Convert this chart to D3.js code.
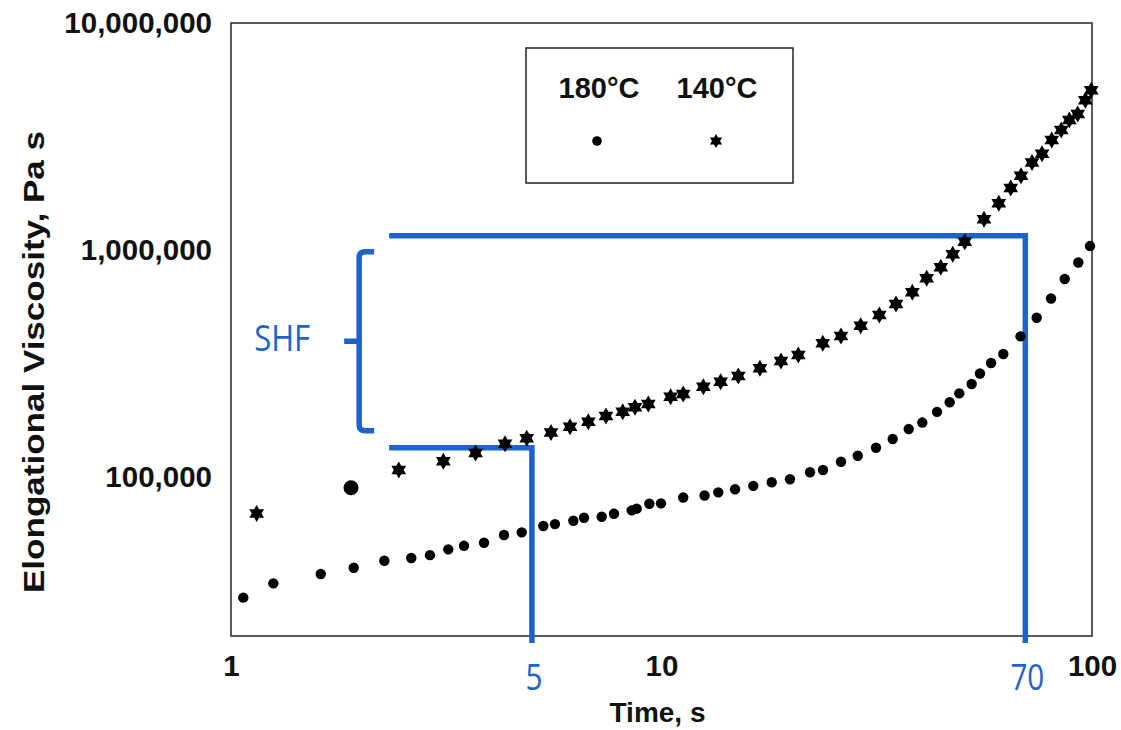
<!DOCTYPE html>
<html>
<head>
<meta charset="utf-8">
<script src="https://cdn.jsdelivr.net/npm/d3@7"></script>
<style>
  body { margin: 0; background: #fff; }
  svg { display: block; }
</style>
</head>
<body>
<svg id="chart" width="1121" height="730"></svg>
<script>
// Elongational viscosity growth, 180 °C (round markers)
const time180 = [1.068, 1.254, 1.616, 1.928, 2.271, 2.623, 2.899, 3.197, 3.477, 3.870,
  4.307, 4.735, 5.314, 5.656, 6.240, 6.607, 7.262, 7.757, 8.527, 8.758,
  9.370, 9.973, 11.23, 12.59, 13.55, 14.82, 16.34, 18.03, 19.88, 22.13,
  23.72, 26.12, 28.57, 31.50, 34.44, 37.52, 40.35, 43.65, 46.71, 49.18,
  52.54, 54.92, 58.28, 62.23, 68.23, 74.38, 80.33, 86.42, 92.94, 98.95];
const visc180 = [29500, 34100, 37500, 39950, 42900, 44100, 45400, 48150, 49900, 51500,
  55700, 57200, 61000, 62200, 64350, 66300, 67000, 69100, 71500, 72700,
  76400, 76750, 81400, 83100, 85800, 88500, 91650, 95100, 98000, 105200,
  107600, 117000, 124300, 134900, 147300, 163000, 174100, 194100, 213900, 234100,
  257300, 286200, 318400, 348800, 417300, 503900, 612300, 746100, 881900, 1042000];

// Elongational viscosity growth, 140 °C (star markers)
const time140 = [1.147, 2.453, 3.113, 3.699, 4.330, 4.863, 5.538, 6.131, 6.761, 7.431,
  8.126, 8.678, 9.319, 10.50, 11.23, 12.51, 13.72, 15.08, 16.93, 18.95,
  20.79, 23.69, 26.12, 29.02, 32.06, 35.05, 38.25, 41.30, 44.53, 47.48,
  50.63, 56.12, 60.74, 64.74, 68.41, 72.55, 76.55, 80.63, 84.83, 88.58,
  92.64, 96.50, 99.57];
const visc140 = [69300, 107600, 117500, 127800, 140400, 148400, 157300, 166900, 175600, 186000,
  194300, 203200, 210100, 226200, 232500, 250300, 263400, 279000, 301700, 324900,
  345200, 388700, 418600, 464700, 517900, 579000, 652100, 751300, 840200, 958300,
  1089000, 1366000, 1607000, 1877000, 2124000, 2430000, 2657000, 3053000, 3379000, 3741000,
  3975000, 4566000, 5054000];

// Single oversized round marker near t = 2 s
const timeLarge = [1.90];
const viscLarge = [89900];

const xTicks = [1, 10, 100];
const yTicks = [1e5, 1e6, 1e7];
const legendLabels = ["180°C", "140°C"];

// Strain-hardening factor annotation: times, viscosity levels, start of guide lines
const shfTimes = [5, 70];
const shfTimeLabels = ["5", "70"];
const shfLevels = [134900, 1157000];
const shfStartTime = 2.33;
const shfLabel = "SHF";

const svg = d3.select("#chart");
const plot = { left: 231, right: 1092, top: 23, bottom: 636 };
const boldFont = "'Liberation Sans', Arial, sans-serif";
const blue = "#1f62c9";

const x = d3.scaleLog().domain([1, 100]).range([plot.left, plot.right]);
const y = d3.scaleLog().domain([2e4, 1e7]).range([plot.bottom, plot.top]);

// Plot frame
svg.append("rect")
  .attr("x", plot.left).attr("y", plot.top)
  .attr("width", plot.right - plot.left).attr("height", plot.bottom - plot.top)
  .attr("fill", "none").attr("stroke", "#333").attr("stroke-width", 1.6);

// Axes (labels only, frame drawn above)
const yAxis = svg.append("g")
  .attr("transform", `translate(${plot.left},0)`)
  .call(d3.axisLeft(y).tickValues(yTicks).tickFormat(d3.format(",")).tickSize(0).tickPadding(19));
const xAxis = svg.append("g")
  .attr("transform", `translate(0,${plot.bottom})`)
  .call(d3.axisBottom(x).tickValues(xTicks).tickFormat(d3.format("d")).tickSize(0).tickPadding(19));
[yAxis, xAxis].forEach(g => {
  g.select(".domain").remove();
  g.selectAll("text")
    .attr("font-family", boldFont).attr("font-weight", "bold")
    .attr("font-size", 29.5).attr("fill", "#111");
});

// Axis titles
svg.append("text")
  .attr("x", (plot.left + plot.right) / 2 - 4).attr("y", 722)
  .attr("text-anchor", "middle")
  .attr("font-family", boldFont).attr("font-weight", "bold").attr("font-size", 28)
  .attr("fill", "#111").text("Time, s");
svg.append("text")
  .attr("transform", `translate(44,362) rotate(-90)`)
  .attr("text-anchor", "middle")
  .attr("font-family", boldFont).attr("font-weight", "bold").attr("font-size", 29)
  .attr("textLength", 462).attr("lengthAdjust", "spacingAndGlyphs")
  .attr("fill", "#111").text("Elongational Viscosity, Pa s");

// Six-pointed star marker
function hexagram(R) {
  const r = R / Math.sqrt(3);
  const pts = d3.range(12).map(i => {
    const a = -Math.PI / 2 + i * Math.PI / 6;
    const rad = i % 2 ? r : R;
    return [rad * Math.cos(a), rad * Math.sin(a)];
  });
  return "M" + pts.map(p => p.join(",")).join("L") + "Z";
}

// Blue annotation: guide lines at the two reading times
const ann = svg.append("g").attr("fill", "none").attr("stroke", blue).attr("stroke-width", 5.5);
shfTimes.forEach((t, i) => {
  const yl = y(shfLevels[i]);
  ann.append("path")
    .attr("d", `M${x(shfStartTime)},${yl}H${x(t)}V${plot.bottom + 7}`)
    .attr("stroke-linejoin", "miter");
});

// Curly bracket between the two levels
const bx = x(shfStartTime) - 30;
const bTop = y(shfLevels[1]) + 16;
const bBot = y(shfLevels[0]) - 17;
const bMid = (bTop + bBot) / 2;
ann.append("path")
  .attr("d", `M${bx + 15},${bTop}H${bx + 6}Q${bx},${bTop} ${bx},${bTop + 6}` +
             `V${bBot - 6}Q${bx},${bBot} ${bx + 6},${bBot}H${bx + 15}`);
ann.append("path").attr("d", `M${bx},${bMid}H${bx - 15}`);

// Annotation texts
const annFont = "'Open Sans', 'Noto Sans', sans-serif";
svg.append("text")
  .attr("transform", `translate(${bx - 77},${bMid + 10}) scale(0.84,1)`)
  .attr("text-anchor", "middle").attr("font-family", annFont)
  .attr("font-size", 37).attr("fill", blue).text(shfLabel);
shfTimes.forEach((t, i) => {
  svg.append("text")
    .attr("transform", `translate(${x(t) + 2},690) scale(0.8,1)`)
    .attr("text-anchor", "middle").attr("font-family", annFont)
    .attr("font-size", 37).attr("fill", blue).text(shfTimeLabels[i]);
});

// Data markers
const data180 = time180.map((t, i) => ({ t, v: visc180[i] }));
const data140 = time140.map((t, i) => ({ t, v: visc140[i] }));
const dataLarge = timeLarge.map((t, i) => ({ t, v: viscLarge[i] }));

svg.append("g").selectAll("circle").data(data180).join("circle")
  .attr("cx", d => x(d.t)).attr("cy", d => y(d.v)).attr("r", 5.2).attr("fill", "#000");
svg.append("g").selectAll("circle").data(dataLarge).join("circle")
  .attr("cx", d => x(d.t)).attr("cy", d => y(d.v)).attr("r", 7.5).attr("fill", "#000");
const starPath = hexagram(8.5);
svg.append("g").selectAll("path").data(data140).join("path")
  .attr("transform", d => `translate(${x(d.t)},${y(d.v)})`)
  .attr("d", starPath).attr("fill", "#000");

// Legend
const lg = svg.append("g");
lg.append("rect").attr("x", 526).attr("y", 48).attr("width", 267).attr("height", 135)
  .attr("fill", "#fff").attr("stroke", "#222").attr("stroke-width", 1.5);
const legendX = [599, 717];
legendLabels.forEach((lab, i) => {
  lg.append("text").attr("x", legendX[i]).attr("y", 98)
    .attr("text-anchor", "middle").attr("font-family", boldFont)
    .attr("font-weight", "bold").attr("font-size", 29).attr("fill", "#111").text(lab);
});
lg.append("circle").attr("cx", legendX[0] - 2).attr("cy", 141).attr("r", 4.8).attr("fill", "#000");
lg.append("path").attr("transform", `translate(${legendX[1] - 1},141)`)
  .attr("d", hexagram(7)).attr("fill", "#000");
</script>
</body>
</html>
